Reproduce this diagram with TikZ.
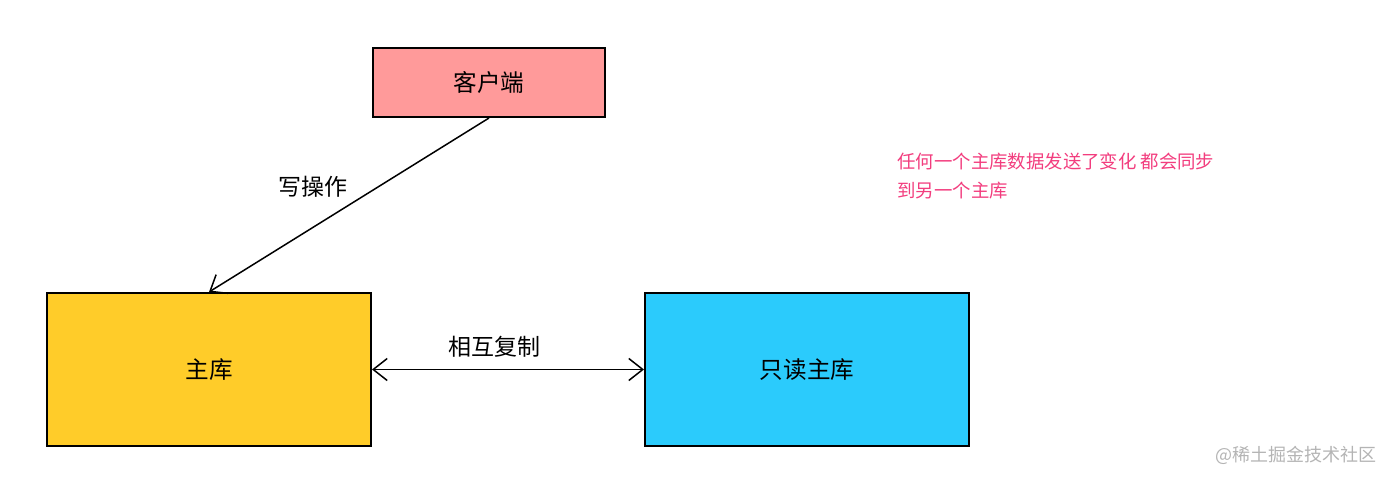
\documentclass[tikz,border=0pt]{standalone}
\usepackage{fontspec}
\setmainfont{Noto Sans CJK SC}
\usetikzlibrary{arrows.meta, positioning}

\definecolor{clientpink}{HTML}{FF9A9A}
\definecolor{masteryellow}{HTML}{FFCC29}
\definecolor{replicablue}{HTML}{2BCBFC}
\definecolor{notered}{HTML}{F23D7E}
\definecolor{markgray}{HTML}{B4B4B4}

\tikzset{
  dbbox/.style={draw=black, line width=1pt, inner sep=0pt, font=\fontsize{11.8}{13}\selectfont},
  link/.style={line width=0.75pt, -{Straight Barb[length=7pt, width=11pt]}},
}

\begin{document}
\begin{tikzpicture}[x=0.5pt, y=-0.5pt]
\useasboundingbox (0,0) rectangle (1394,482);

% Boxes
\node[dbbox, fill=clientpink, minimum width=116pt, minimum height=34.5pt] (client) at (489,82.5) {客户端};
\node[dbbox, fill=masteryellow, minimum width=162pt, minimum height=76.5pt] (master) at (209,369.5) {主库};
\node[dbbox, fill=replicablue, minimum width=162pt, minimum height=76.5pt] (replica) at (807,369.5) {只读主库};

% Connectors
\draw[link] (client.south) -- (master.north);
\draw[link, {Straight Barb[length=7pt, width=11pt]}-{Straight Barb[length=7pt, width=11pt]}] (master.east) -- (replica.west);

% Labels
\node[font=\fontsize{11.5}{13}\selectfont] (write) at (313,187) {写操作};
\node[font=\fontsize{11.5}{13}\selectfont] (sync) at (494,347) {相互复制};
\node[anchor=north west, align=left, text=notered, inner sep=0pt, font=\fontsize{9.2}{14.5}\selectfont] (note) at (897,152) {任何一个主库数据发送了变化 都会同步\\到另一个主库};

% Watermark
\node[anchor=west, text=markgray, inner sep=0pt, font=\fontsize{9}{11}\selectfont] (mark) at (1215,455) {@稀土掘金技术社区};
\end{tikzpicture}
\end{document}
